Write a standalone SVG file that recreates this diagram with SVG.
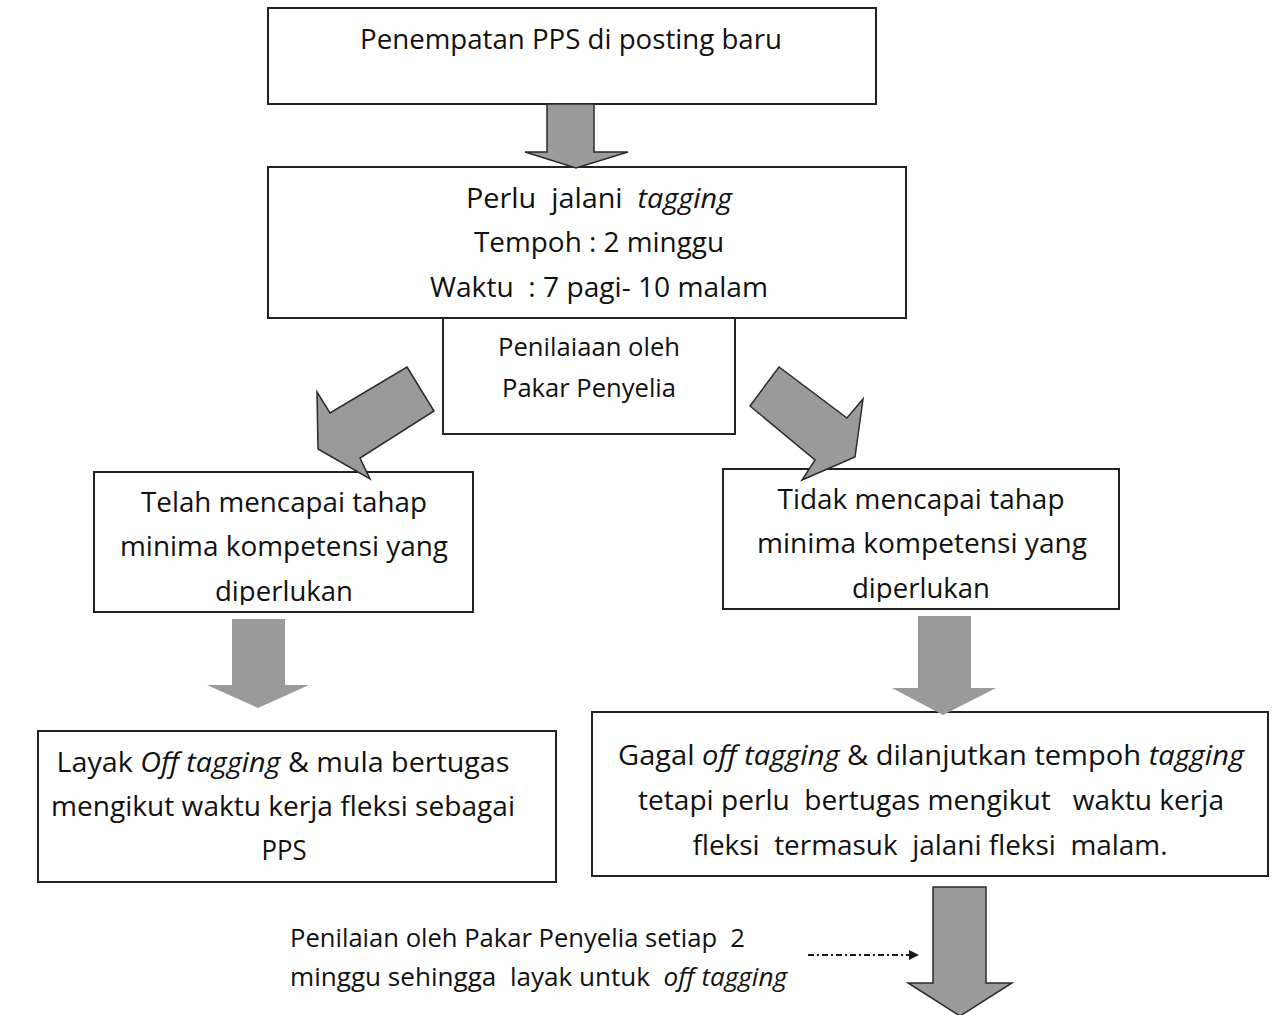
<svg xmlns="http://www.w3.org/2000/svg" width="1278" height="1015" viewBox="0 0 1278 1015">
<style>
.box{fill:#fff;stroke:#222;stroke-width:2}
.t{font-family:"Open Sans",Lato,"Liberation Sans",sans-serif;fill:#111;text-anchor:middle;white-space:pre}
.l{font-size:27.5px}
.s{font-size:25px}
.i{font-style:italic}
.arr{fill:#9a9a9a;stroke:#2a2a2a;stroke-width:1.5;stroke-linejoin:miter}
.arrn{fill:#9a9a9a}
</style>
<defs>
<marker id="ah" markerWidth="10" markerHeight="10" refX="9" refY="5" orient="auto" markerUnits="userSpaceOnUse"><path d="M0,0 L10,5 L0,10 z" fill="#1a1a1a"/></marker>
<clipPath id="c4"><rect x="94" y="472" width="379" height="133"/></clipPath>
<clipPath id="c5"><rect x="723" y="469" width="396" height="133"/></clipPath>
</defs>
<rect width="1278" height="1015" fill="#fff"/>
<g id="n1">
<rect class="box" x="268" y="8" width="608" height="96"/>
<text class="t l" x="571" y="49" textLength="422" lengthAdjust="spacingAndGlyphs">Penempatan PPS di posting baru</text>
</g>
<g id="n2">
<rect class="box" x="268" y="167" width="638" height="151"/>
<text class="t l" x="599" y="208" xml:space="preserve" textLength="266" lengthAdjust="spacingAndGlyphs">Perlu  jalani  <tspan class="i">tagging</tspan></text>
<text class="t l" x="599" y="252" textLength="250" lengthAdjust="spacingAndGlyphs">Tempoh : 2 minggu</text>
<text class="t l" x="599" y="297" xml:space="preserve" textLength="338" lengthAdjust="spacingAndGlyphs">Waktu  : 7 pagi- 10 malam</text>
</g>
<g id="n3">
<rect class="box" x="443" y="318" width="292" height="116"/>
<text class="t s" x="589" y="356" textLength="182" lengthAdjust="spacingAndGlyphs">Penilaiaan oleh</text>
<text class="t s" x="589" y="397" textLength="174" lengthAdjust="spacingAndGlyphs">Pakar Penyelia</text>
</g>
<g id="n4">
<rect class="box" x="94" y="472" width="379" height="140"/>
<g clip-path="url(#c4)">
<text class="t l" x="284" y="512" textLength="286" lengthAdjust="spacingAndGlyphs">Telah mencapai tahap</text>
<text class="t l" x="284" y="556" textLength="328" lengthAdjust="spacingAndGlyphs">minima kompetensi yang</text>
<text class="t l" x="284" y="601" textLength="138" lengthAdjust="spacingAndGlyphs">diperlukan</text>
</g>
</g>
<g id="n5">
<rect class="box" x="723" y="469" width="396" height="140"/>
<g clip-path="url(#c5)">
<text class="t l" x="921" y="509" textLength="287" lengthAdjust="spacingAndGlyphs">Tidak mencapai tahap</text>
<text class="t l" x="922" y="553" textLength="330" lengthAdjust="spacingAndGlyphs">minima kompetensi yang</text>
<text class="t l" x="921" y="598" textLength="138" lengthAdjust="spacingAndGlyphs">diperlukan</text>
</g>
</g>
<g id="n6">
<rect class="box" x="38" y="731" width="518" height="151"/>
<text class="t l" x="283" y="772" textLength="453" lengthAdjust="spacingAndGlyphs">Layak <tspan class="i">Off tagging</tspan> &amp; mula bertugas</text>
<text class="t l" x="283" y="816" textLength="464" lengthAdjust="spacingAndGlyphs">mengikut waktu kerja fleksi sebagai</text>
<text class="t l" x="284" y="860" textLength="45" lengthAdjust="spacingAndGlyphs">PPS</text>
</g>
<g id="n7">
<rect class="box" x="592" y="712" width="676" height="164"/>
<text class="t l" x="931" y="765" textLength="626" lengthAdjust="spacingAndGlyphs">Gagal <tspan class="i">off tagging</tspan> &amp; dilanjutkan tempoh <tspan class="i">tagging</tspan></text>
<text class="t l" x="931" y="810" xml:space="preserve" textLength="586" lengthAdjust="spacingAndGlyphs">tetapi perlu  bertugas mengikut   waktu kerja</text>
<text class="t l" x="930" y="855" xml:space="preserve" textLength="475" lengthAdjust="spacingAndGlyphs">fleksi  termasuk  jalani fleksi  malam.</text>
</g>
<g id="note">
<text class="t s" x="290" y="947" style="text-anchor:start" xml:space="preserve" textLength="455" lengthAdjust="spacingAndGlyphs">Penilaian oleh Pakar Penyelia setiap  2</text>
<text class="t s" x="290" y="986" style="text-anchor:start" xml:space="preserve" textLength="497" lengthAdjust="spacingAndGlyphs">minggu sehingga  layak untuk  <tspan class="i">off tagging</tspan></text>
</g>
<g id="connectors">
<polygon class="arr" points="547,104 594,104 594,152 628,152 576,168 525,152 547,152"/>
<polygon class="arr" points="407,367 434,411 360,458 370,479 318,449 317,392 330,413"/>
<polygon class="arr" points="750,406 779,367 847,418 863,399 855,457 802,480 815,460"/>
<polygon class="arrn" points="232,619 285,619 285,685 309,685 258,708 207,685 232,685"/>
<polygon class="arrn" points="918,616 971,616 971,688 996,688 943,715 892,688 918,688"/>
<polygon class="arr" points="933,887 986,887 986,983 1012,983 960,1016 908,983 933,983"/>
<line x1="808" y1="955" x2="918" y2="955" stroke="#1a1a1a" stroke-width="2" stroke-dasharray="6,3,2,3" marker-end="url(#ah)"/>
</g>
</svg>
